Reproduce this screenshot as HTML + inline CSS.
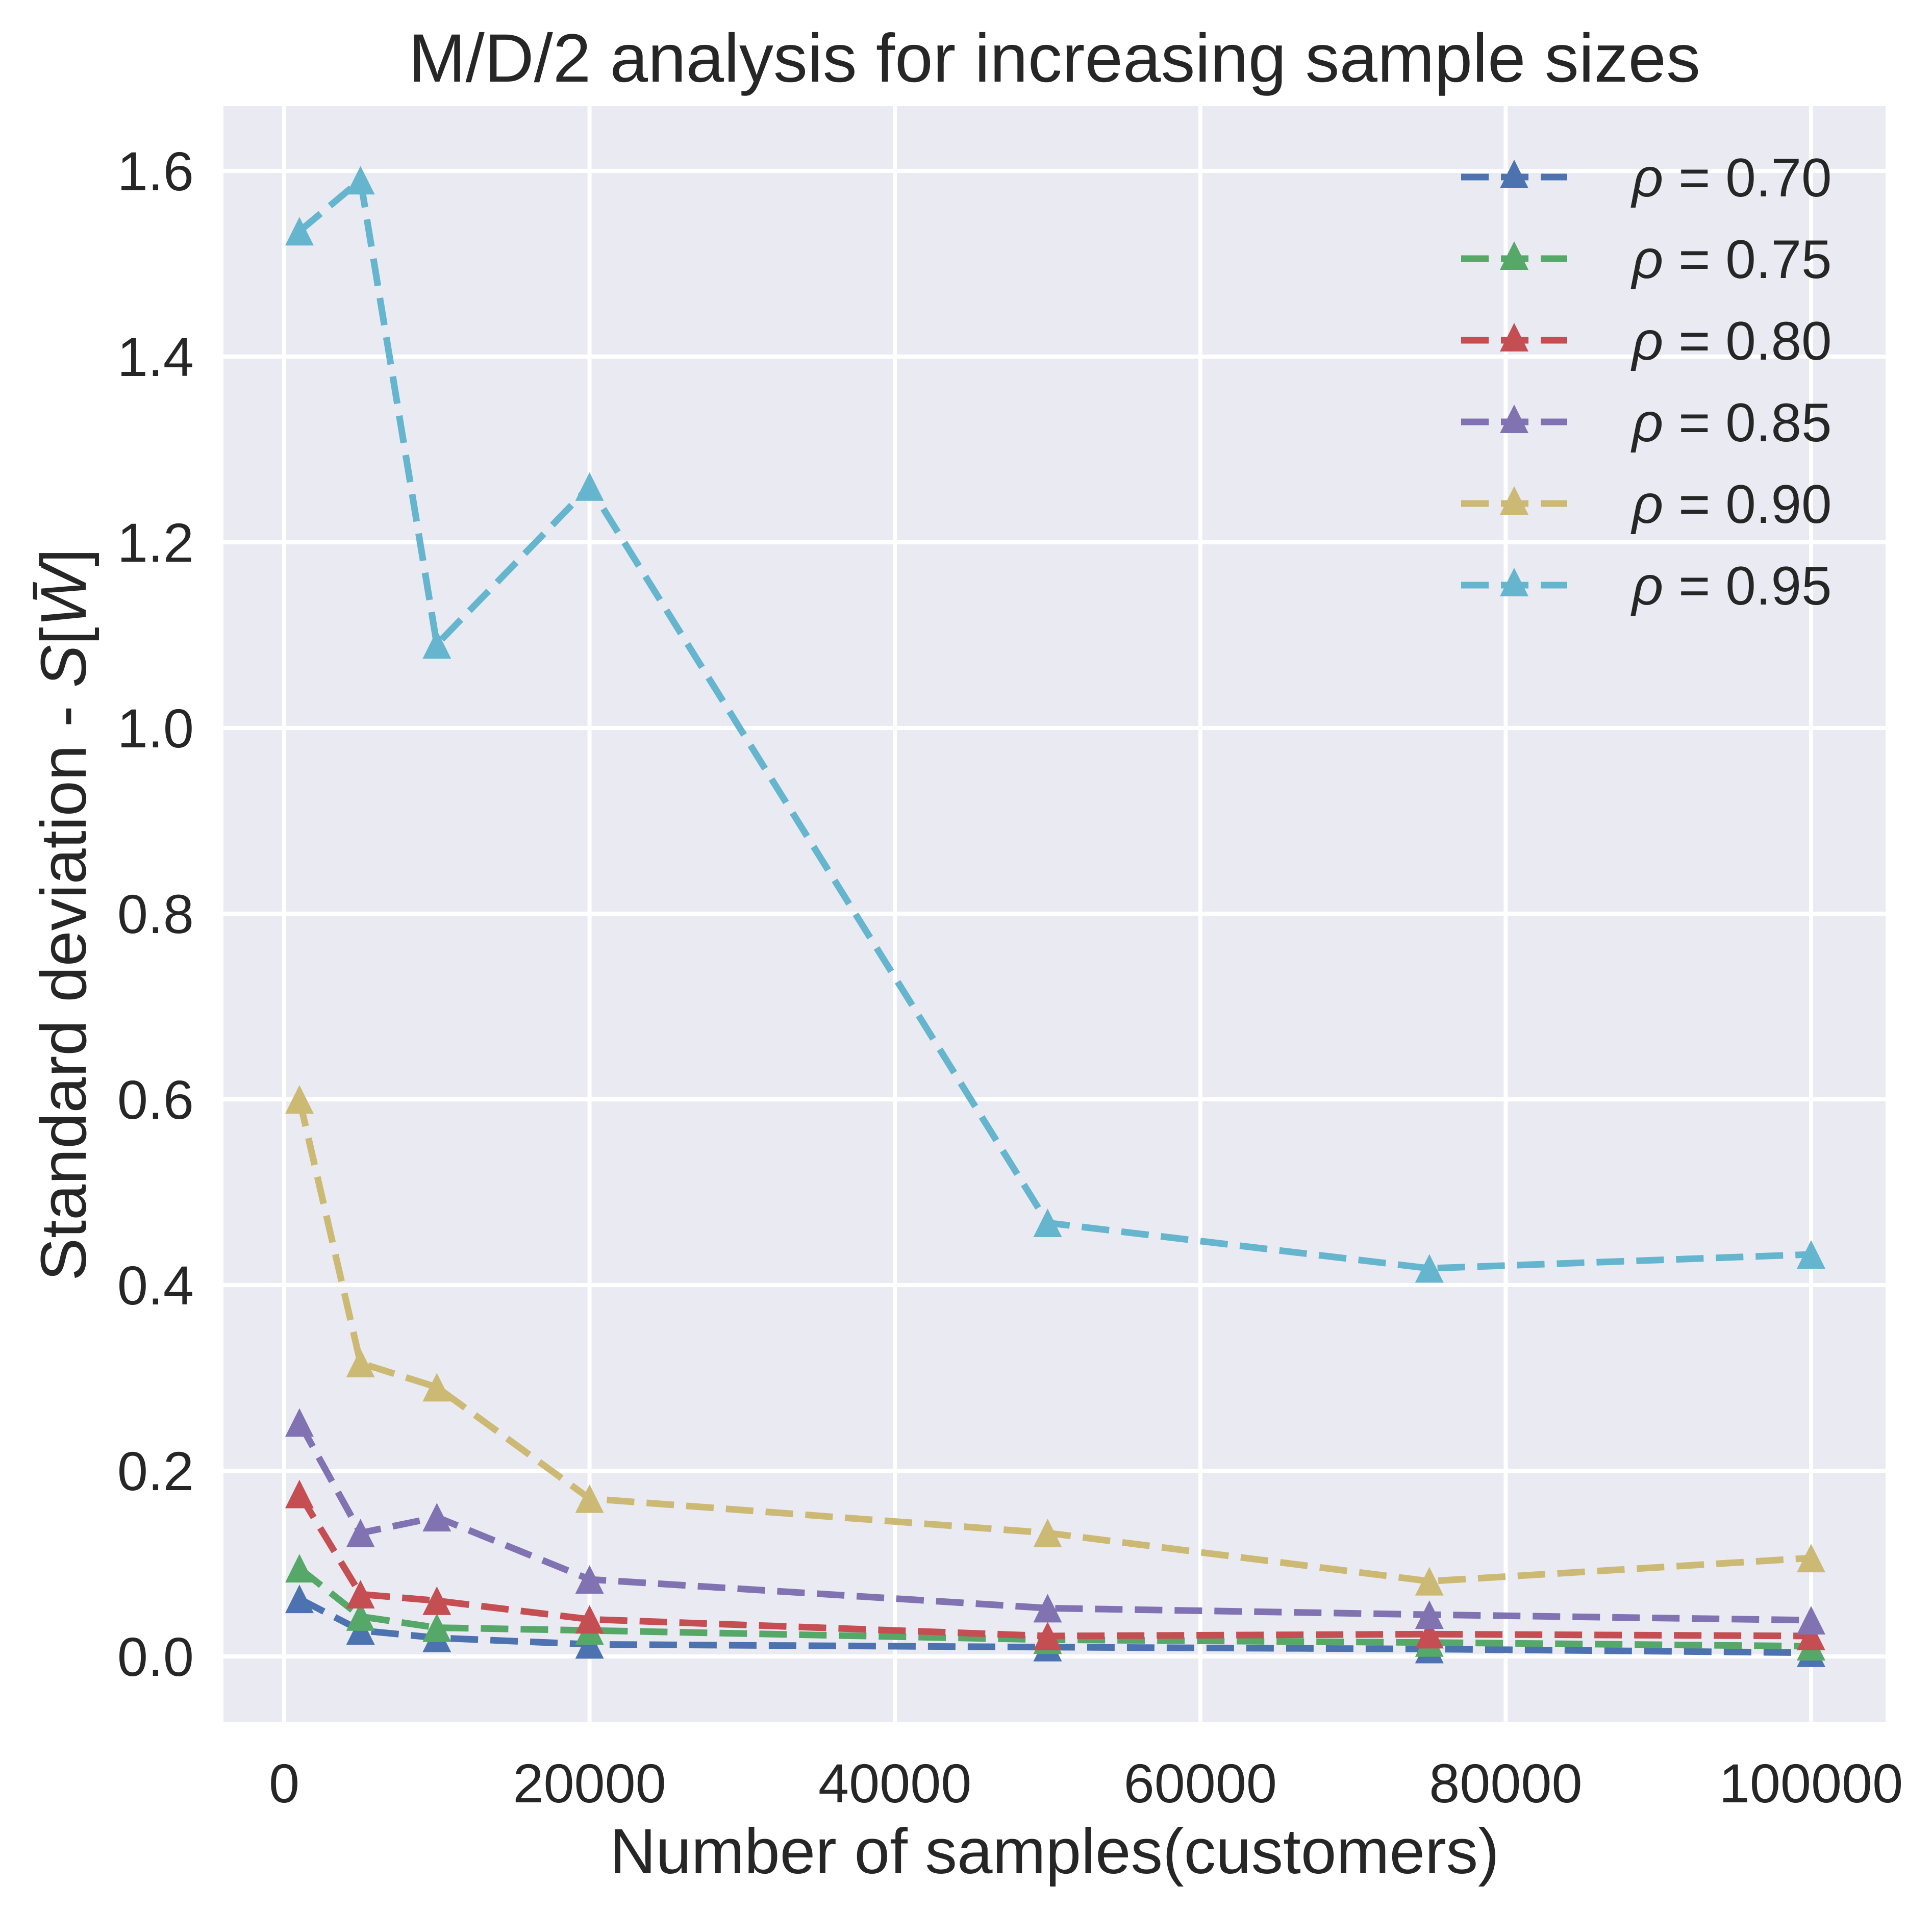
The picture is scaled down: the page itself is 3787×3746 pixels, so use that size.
<!DOCTYPE html>
<html><head><meta charset="utf-8"><style>
html,body{margin:0;padding:0;background:#fff;}
svg{display:block;font-family:"Liberation Sans","DejaVu Sans",sans-serif;}
</style></head><body>
<svg id="chart" width="3787" height="3746" viewBox="0 0 3787 3746" xmlns="http://www.w3.org/2000/svg">
<rect x="438" y="208" width="3258" height="3168" fill="#eaeaf2"/>
<g id="grid"></g>
<g id="series"></g>
<g id="ticks" font-size="108" fill="#262626"></g>
<text x="2067" y="160" font-size="134" text-anchor="middle" fill="#262626">M/D/2 analysis for increasing sample sizes</text>
<text x="2067" y="3672" font-size="125" text-anchor="middle" fill="#262626">Number of samples(customers)</text>
<text transform="translate(168,1793) rotate(-90)" font-size="126" text-anchor="middle" fill="#262626">Standard deviation - <tspan font-style="italic">S</tspan>[<tspan font-style="italic">W̄</tspan>]</text>
<g id="legend"></g>
</svg>
<script>
const xValues = [1000, 5000, 10000, 20000, 50000, 75000, 100000];
const seriesLabels = ["0.70", "0.75", "0.80", "0.85", "0.90", "0.95"];
const rho070 = [0.062, 0.028, 0.020, 0.013, 0.010, 0.008, 0.004];
const rho075 = [0.095, 0.043, 0.031, 0.028, 0.018, 0.015, 0.011];
const rho080 = [0.175, 0.067, 0.060, 0.040, 0.022, 0.024, 0.022];
const rho085 = [0.252, 0.133, 0.150, 0.083, 0.052, 0.045, 0.039];
const rho090 = [0.600, 0.316, 0.290, 0.170, 0.133, 0.081, 0.106];
const rho095 = [1.535, 1.590, 1.090, 1.260, 0.467, 0.418, 0.433];
const xTicks = [0, 20000, 40000, 60000, 80000, 100000];
const yTicks = [0.0, 0.2, 0.4, 0.6, 0.8, 1.0, 1.2, 1.4, 1.6];
const colors = ["#4c72b0", "#55a868", "#c44e52", "#8172b2", "#ccb974", "#64b5cd"];
const allSeries = [rho070, rho075, rho080, rho085, rho090, rho095];

const NS = "http://www.w3.org/2000/svg";
const PL = 438, PR = 3696, PT = 208, PB = 3376;
function xs(v){ return 557 + (v - 0) * (3550 - 557) / 100000; }
function ys(v){ return 3247 - v * 1820; }
function mk(tag, attrs, parent){ const e = document.createElementNS(NS, tag); for (const k in attrs) e.setAttribute(k, attrs[k]); parent.appendChild(e); return e; }
function tri(cx, cy, s){ return `${cx},${cy - s} ${cx - s},${cy + s} ${cx + s},${cy + s}`; }

const grid = document.getElementById('grid');
const ticks = document.getElementById('ticks');
xTicks.forEach(t => {
  const l = mk('line', {x1: xs(t), x2: xs(t), y1: PT, y2: PB, stroke: '#fff', 'stroke-width': 8}, grid);
  
  
  const tx = mk('text', {x: xs(t), y: 3533, 'text-anchor': 'middle'}, ticks);
  tx.textContent = String(t);
  
  
});
yTicks.forEach(t => {
  const l = mk('line', {x1: PL, x2: PR, y1: ys(t), y2: ys(t), stroke: '#fff', 'stroke-width': 8}, grid);
  
  
  const tx = mk('text', {x: 380, y: ys(t) + 38, 'text-anchor': 'end'}, ticks);
  tx.textContent = t.toFixed(1);
  
  
});

const series = document.getElementById('series');
allSeries.forEach((vals, i) => {
  const g = mk('g', {}, series);
  
  
  const pts = vals.map((v, j) => xs(xValues[j]) + ',' + ys(v)).join(' ');
  const pl = mk('polyline', {points: pts, fill: 'none', stroke: colors[i], 'stroke-width': 13, 'stroke-dasharray': '54 24'}, g);
  
  
  vals.forEach((v, j) => {
    const m = mk('polygon', {points: tri(xs(xValues[j]), ys(v), 28), fill: colors[i]}, g);
    
    
  });
});

const legend = document.getElementById('legend');
seriesLabels.forEach((lab, i) => {
  const y = 347 + 160 * i;
  const g = mk('g', {}, legend);
  
  
  mk('line', {x1: 2864, x2: 3072, y1: y, y2: y, stroke: colors[i], 'stroke-width': 13, 'stroke-dasharray': '54 24'}, g);
  mk('polygon', {points: tri(2968, y - 6, 28), fill: colors[i]}, g);
  const t = mk('text', {x: 3199, y: y + 38, 'font-size': 107, fill: '#262626'}, g);
  t.innerHTML = '<tspan font-style="italic">ρ</tspan> = ' + lab;
});
</script>
</body></html>
